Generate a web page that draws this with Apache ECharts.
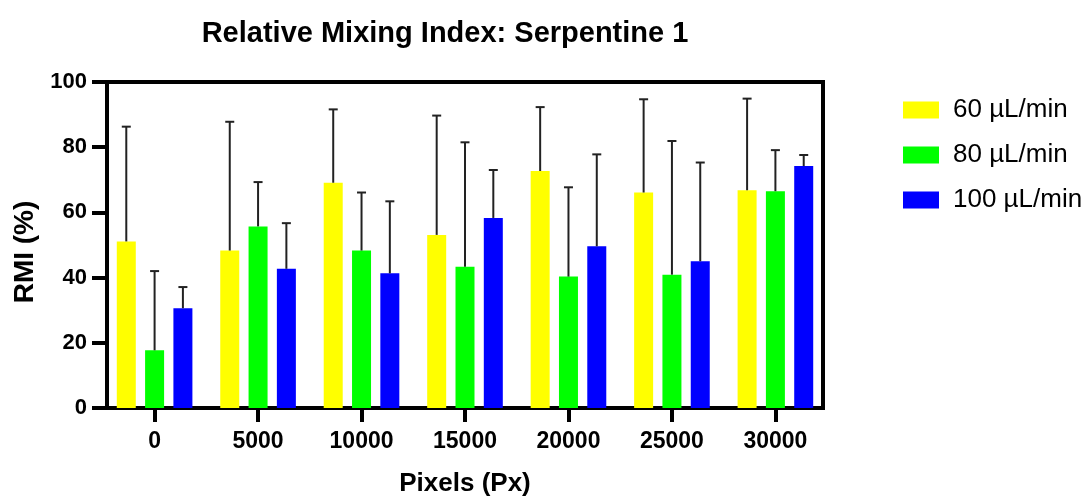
<!DOCTYPE html>
<html>
<head>
<meta charset="utf-8">
<title>Relative Mixing Index: Serpentine 1</title>
<script src="https://cdn.jsdelivr.net/npm/echarts@6/dist/echarts.min.js"></script>
<style>
  html, body { margin: 0; padding: 0; background: #fff; }
  #chart { width: 1092px; height: 502px; }
</style>
</head>
<body>
<div id="chart"></div>
<script>
// x positions (pixels) and tick labels
const pixels = [0, 5000, 10000, 15000, 20000, 25000, 30000];
const seriesNames = ['60 µL/min', '80 µL/min', '100 µL/min'];
const colors = ['#ffff00', '#00ff00', '#0000ff'];

// mean RMI (%)
const rmi60 = [51.1, 48.3, 69.1, 53.1, 72.7, 66.1, 66.8];
const rmi80 = [17.7, 55.7, 48.3, 43.3, 40.3, 40.9, 66.5];
const rmi100 = [30.6, 42.7, 41.3, 58.3, 49.6, 45.0, 74.2];

// upper error (SD)
const sd60 = [35.2, 39.5, 22.5, 36.6, 19.6, 28.6, 28.1];
const sd80 = [24.3, 13.6, 17.8, 38.2, 27.4, 41.0, 12.6];
const sd100 = [6.5, 14.0, 22.1, 14.7, 28.2, 30.3, 3.4];

const yTicks = [0, 20, 40, 60, 80, 100];

const means = [rmi60, rmi80, rmi100];
const sds = [sd60, sd80, sd100];

const barWidth = 19;
const barGapRatio = 0.49;
const pitch = barWidth * (1 + barGapRatio);

const font = '"Liberation Sans", Arial, sans-serif';

const myChart = echarts.init(document.getElementById('chart'));

const series = [];
// bars
means.forEach((vals, i) => {
    series.push({
        name: seriesNames[i],
        type: 'bar',
        barWidth: barWidth,
        barGap: (barGapRatio * 100) + '%',
        itemStyle: { color: colors[i] },
        data: pixels.map((p, k) => [p, vals[k]]),
        z: 2
    });
});
// error bars (upper only)
means.forEach((vals, i) => {
    const offset = (i - 1) * pitch;
    series.push({
        type: 'custom',
        name: 'err' + i,
        z: 3,
        data: pixels.map((p, k) => [p, vals[k], sds[i][k]]),
        renderItem: function (params, api) {
            const x = api.value(0);
            const m = api.value(1);
            const s = api.value(2);
            const base = api.coord([x, m]);
            const top = api.coord([x, m + s]);
            const cx = base[0] + offset;
            const style = { stroke: '#222', lineWidth: 2 };
            return {
                type: 'group',
                children: [
                    { type: 'line', shape: { x1: cx, y1: base[1], x2: cx, y2: top[1] }, style: style },
                    { type: 'line', shape: { x1: cx - 4.5, y1: top[1], x2: cx + 4.5, y2: top[1] }, style: style }
                ]
            };
        }
    });
});

const option = {
    animation: false,
    title: {
        text: 'Relative Mixing Index: Serpentine 1',
        left: 440,
        textAlign: 'center',
        top: 14,
        textStyle: { fontFamily: font, fontSize: 29, fontWeight: 'bold', color: '#000' }
    },
    legend: {
        data: seriesNames,
        orient: 'vertical',
        left: 898,
        top: 92,
        icon: 'rect',
        itemWidth: 36,
        itemHeight: 17,
        itemGap: 19,
        textStyle: { fontFamily: font, fontSize: 26, lineHeight: 26, color: '#000', padding: [0, 0, 0, 9] }
    },
    grid: {
        left: 107,
        right: 269,
        top: 82,
        bottom: 90,
        show: true,
        borderColor: '#000',
        borderWidth: 4,
        backgroundColor: 'transparent'
    },
    xAxis: {
        type: 'value',
        min: -2300,
        max: 32300,
        name: 'Pixels (Px)',
        nameLocation: 'middle',
        nameGap: 63,
        nameTextStyle: { fontFamily: font, fontSize: 26, fontWeight: 'bold', color: '#000' },
        axisLine: { show: true, onZero: false, lineStyle: { color: '#000', width: 4 } },
        axisTick: { show: true, length: 14, customValues: pixels, lineStyle: { color: '#000', width: 4 } },
        axisLabel: { customValues: pixels, margin: 22, fontFamily: font, fontSize: 23, fontWeight: 'bold', color: '#000',
            formatter: v => String(v) },
        splitLine: { show: false }
    },
    yAxis: {
        type: 'value',
        min: 0,
        max: 100,
        interval: 20,
        name: 'RMI (%)',
        nameLocation: 'middle',
        nameGap: 66,
        nameTextStyle: { fontFamily: font, fontSize: 28, fontWeight: 'bold', color: '#000', padding: [0, 14, 0, 0] },
        axisLine: { show: true, onZero: false, lineStyle: { color: '#000', width: 4 } },
        axisTick: { show: true, length: 15, lineStyle: { color: '#000', width: 4 } },
        axisLabel: { margin: 20, fontFamily: font, fontSize: 22, fontWeight: 'bold', color: '#000',
            formatter: v => yTicks.indexOf(v) >= 0 ? String(v) : '' },
        splitLine: { show: false }
    },
    series: series
};

myChart.setOption(option);
</script>
</body>
</html>
